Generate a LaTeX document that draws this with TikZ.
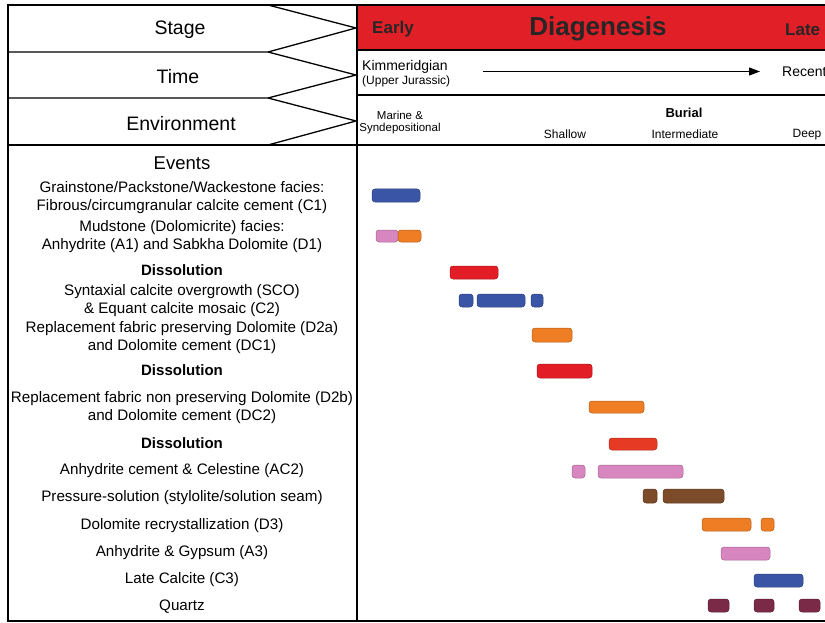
\documentclass[tikz,border=0pt]{standalone}
\usepackage{fontspec}
\setmainfont{Liberation Sans}
\usetikzlibrary{arrows.meta}
\definecolor{diared}{HTML}{E11F26}
\definecolor{pblue}{HTML}{3A55A6}
\definecolor{ppink}{HTML}{D886BF}
\definecolor{porange}{HTML}{EE7D23}
\definecolor{pred}{HTML}{E31D25}
\definecolor{pred2}{HTML}{E63A25}
\definecolor{pbrown}{HTML}{7B4B2A}
\definecolor{pmaroon}{HTML}{7A2947}
\tikzset{
  every node/.style={inner sep=0pt, yshift=-1.5pt},
  rowlabel/.style={font=\fontsize{19.5}{22}\selectfont},
  evt/.style={align=center, font=\fontsize{15.2}{17.5}\selectfont},
  evtbold/.style={font=\bfseries\fontsize{15}{17.5}\selectfont},
  small/.style={font=\fontsize{11.5}{12.5}\selectfont},
  phase/.style={fill=#1, draw=#1!75!black, line width=0.5pt, rounded corners=3pt},
}
\begin{document}
\begin{tikzpicture}[x=1pt,y=-1pt]
\useasboundingbox (0,0) rectangle (825,623);
\clip (0,0) rectangle (825,623);

% header band
\fill [diared] (357,5) rectangle (830,50);
\draw [line width=1.2pt] (357,50) -- (830,50);
\draw [line width=1.2pt] (357,95) -- (830,95);
\draw [line width=1.2pt] (8,145) -- (830,145);

% chevrons
\draw [line width=1.3pt] (268,5) -- (356,28) -- (268,52) -- (8,52);
\draw [line width=1.3pt] (268,52) -- (356,75) -- (268,98) -- (8,98);
\draw [line width=1.3pt] (268,98) -- (356,121) -- (268,145);

% frame
\draw [line width=1.6pt] (830,5) -- (8,5) -- (8,621) -- (830,621);
\draw [line width=1.6pt] (357,5) -- (357,621);

\node [rowlabel] (stage) at (180,28) {Stage};
\node [rowlabel] (time) at (178,75) {Time};
\node [rowlabel] (env) at (181,122) {Environment};

\node [font=\bfseries\fontsize{17}{20}\selectfont, text=black!85] (early) at (393,28) {Early};
\node [font=\bfseries\fontsize{26}{30}\selectfont, text=black!85] (diag) at (598,27) {Diagenesis};
\node [font=\bfseries\fontsize{17}{20}\selectfont, text=black!85, anchor=west] (late) at (785,28) {Late};

\node [font=\fontsize{14}{15}\selectfont, anchor=west] (kim) at (362,65) {Kimmeridgian};
\node [font=\fontsize{12}{13}\selectfont, anchor=west] (upj) at (362,80) {(Upper Jurassic)};
\coordinate (tstart) at (483,70);
\coordinate (tend) at (760,70);
\draw [line width=1pt, -{Triangle[length=11pt,width=8pt]}] (tstart) -- (tend);
\node [font=\fontsize{14}{15}\selectfont, anchor=west] (recent) at (782,70) {Recent};

\node [small, align=center] (marine) at (400,121) {Marine \&\\Syndepositional};
\node [font=\bfseries\fontsize{13}{14}\selectfont] (burial) at (684,111) {Burial};
\node [font=\fontsize{12}{13}\selectfont] (shallow) at (565,133) {Shallow};
\node [font=\fontsize{12}{13}\selectfont] (inter) at (685,133) {Intermediate};
\node [font=\fontsize{12}{13}\selectfont] (deep) at (807,133) {Deep};

% events
\node [font=\fontsize{18.5}{20}\selectfont] (events) at (182,162) {Events};
\node [evt] (c1) at (182,196) {Grainstone/Packstone/Wackestone facies:\\Fibrous/circumgranular calcite cement (C1)};
\node [evt] (a1) at (182,235) {Mudstone (Dolomicrite) facies:\\Anhydrite (A1) and Sabkha Dolomite (D1)};
\node [evtbold] (dis1) at (182,269) {Dissolution};
\node [evt] (sco) at (182,299) {Syntaxial calcite overgrowth (SCO)\\\& Equant calcite mosaic (C2)};
\node [evt] (d2a) at (182,336) {Replacement fabric preserving Dolomite (D2a)\\and Dolomite cement (DC1)};
\node [evtbold] (dis2) at (182,369) {Dissolution};
\node [evt] (d2b) at (182,406) {Replacement fabric non preserving Dolomite (D2b)\\and Dolomite cement (DC2)};
\node [evtbold] (dis3) at (182,442) {Dissolution};
\node [evt] (ac2) at (182,469) {Anhydrite cement \& Celestine (AC2)};
\node [evt] (ps) at (182,496) {Pressure-solution (stylolite/solution seam)};
\node [evt] (d3) at (182,524) {Dolomite recrystallization (D3)};
\node [evt] (a3) at (182,551) {Anhydrite \& Gypsum (A3)};
\node [evt] (c3) at (182,578) {Late Calcite (C3)};
\node [evt] (qz) at (182,605) {Quartz};

% bars
\draw [phase=pblue] (372,189) rectangle (420,202);
\draw [phase=ppink] (376,230) rectangle (398,242);
\draw [phase=porange] (398,230) rectangle (421,242);
\draw [phase=pred] (450,266) rectangle (498,279);
\draw [phase=pblue] (459,294) rectangle (473,307);
\draw [phase=pblue] (477,294) rectangle (525,307);
\draw [phase=pblue] (531,294) rectangle (543,307);
\draw [phase=porange] (532,328) rectangle (572,342);
\draw [phase=pred] (537,364) rectangle (592,378);
\draw [phase=porange] (589,401) rectangle (644,413);
\draw [phase=pred2] (609,438) rectangle (657,450);
\draw [phase=ppink] (572,465) rectangle (585,478);
\draw [phase=ppink] (598,465) rectangle (683,478);
\draw [phase=pbrown] (643,489) rectangle (657,503);
\draw [phase=pbrown] (663,489) rectangle (724,503);
\draw [phase=porange] (702,518) rectangle (751,531);
\draw [phase=porange] (761,518) rectangle (774,531);
\draw [phase=ppink] (721,547) rectangle (770,560);
\draw [phase=pblue] (754,574) rectangle (803,587);
\draw [phase=pmaroon] (708,599) rectangle (729,612);
\draw [phase=pmaroon] (754,599) rectangle (774,612);
\draw [phase=pmaroon] (799,599) rectangle (820,612);
\end{tikzpicture}
\end{document}
